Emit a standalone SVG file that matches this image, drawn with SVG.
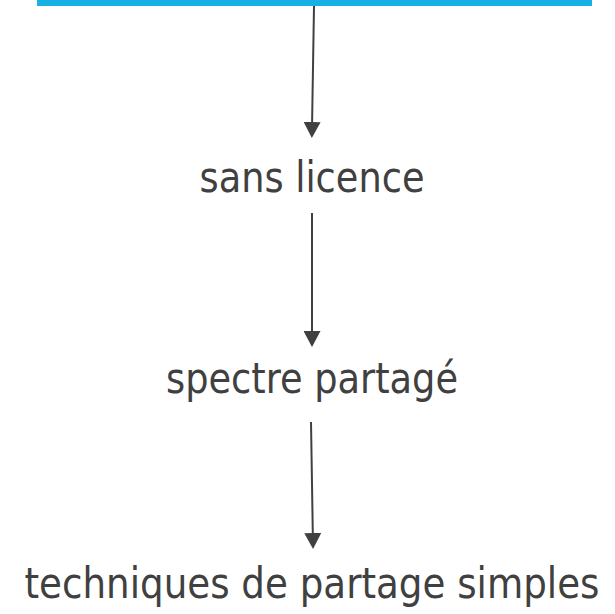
<svg xmlns="http://www.w3.org/2000/svg" width="615" height="614" viewBox="0 0 615 614">
  <style>
    .lbl { font-family: "DejaVu Sans Condensed", "DejaVu Sans", sans-serif; font-size: 43px; fill: #404040; text-anchor: middle; }
    .conn { stroke: #404040; stroke-width: 2; fill: none; marker-end: url(#arrow); }
  </style>
  <defs>
    <marker id="arrow" markerUnits="userSpaceOnUse" markerWidth="16" markerHeight="17" viewBox="0 0 16 17" refX="0" refY="8.5" orient="auto">
      <path d="M0,0 L16,8.5 L0,17 z" fill="#404040"/>
    </marker>
  </defs>
  <rect width="615" height="614" fill="#ffffff"/>
  <g id="node-top">
    <rect x="37" y="0" width="555" height="6" fill="#17b0e4"/>
  </g>
  <g id="connectors">
    <line class="conn" x1="314" y1="6" x2="312.1" y2="122"/>
    <line class="conn" x1="312" y1="213" x2="312" y2="331"/>
    <line class="conn" x1="311" y1="422" x2="312.8" y2="533"/>
  </g>
  <g id="node-sans-licence">
    <text class="lbl" x="312" y="192" textLength="225" lengthAdjust="spacingAndGlyphs">sans licence</text>
  </g>
  <g id="node-spectre-partage">
    <text class="lbl" x="312" y="393" textLength="292" lengthAdjust="spacingAndGlyphs">spectre partagé</text>
  </g>
  <g id="node-techniques">
    <text class="lbl" x="312" y="598" textLength="575" lengthAdjust="spacingAndGlyphs">techniques de partage simples</text>
  </g>
</svg>
